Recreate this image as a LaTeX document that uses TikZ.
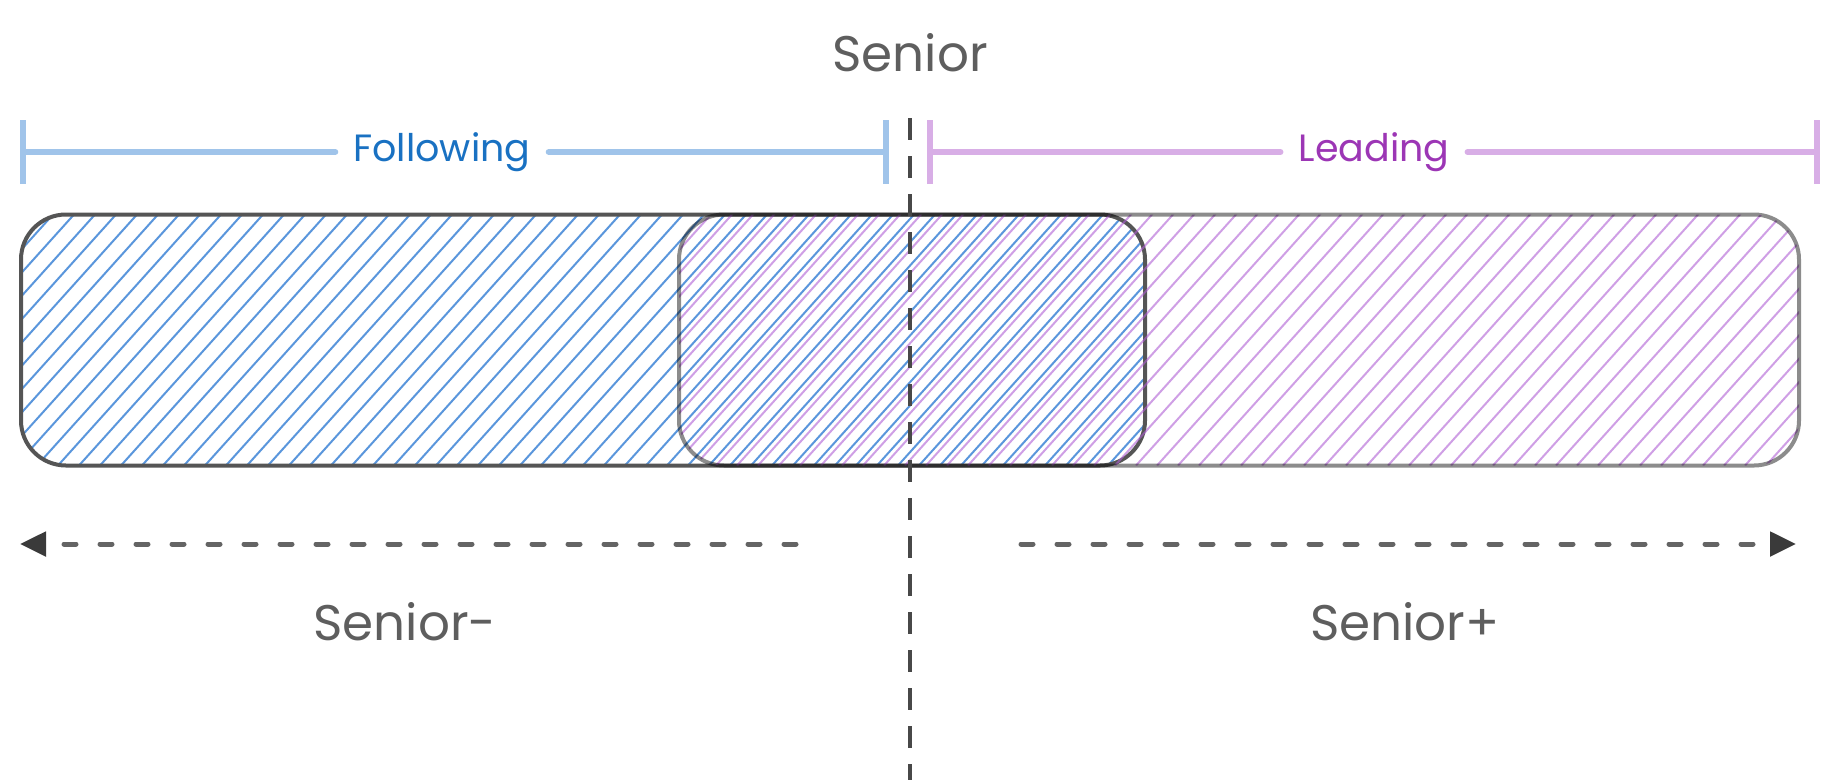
\documentclass[tikz,border=0pt]{standalone}
\usepackage{fontspec}
\setmainfont{Poppins}
\usetikzlibrary{arrows.meta,positioning,calc}
\definecolor{inkgray}{RGB}{94,94,94}
\definecolor{dashgray}{RGB}{100,100,100}
\definecolor{tipdark}{RGB}{58,58,58}
\definecolor{axisgray}{RGB}{72,72,72}
\definecolor{boxdark}{RGB}{85,85,85}
\definecolor{followblue}{RGB}{25,113,194}
\definecolor{leadpurple}{RGB}{156,54,181}
\definecolor{followline}{RGB}{160,196,234}
\definecolor{leadline}{RGB}{216,174,230}
\definecolor{hatchblue}{RGB}{90,150,220}
\definecolor{hatchpurple}{RGB}{175,95,212}

\begin{document}
\begin{tikzpicture}[x=1pt, y=-1pt,
  lbl/.style={font=\fontsize{50}{60}\selectfont, text=inkgray},
  brk/.style={font=\fontsize{38}{46}\selectfont, inner sep=18pt},
  box/.style={rounded corners=45pt, line width=4pt, minimum height=251pt, inner sep=0pt},
  hatch/.style={path picture={\foreach \k in {0,...,70} \draw[draw opacity=1, line width=2pt, #1] ([xshift={\k*21pt-320pt}]path picture bounding box.south west) -- ++(48:420pt);}},
  span/.style={line width=6pt, line cap=round},
  axis/.style={line width=4pt, draw=axisgray, dash pattern=on 22pt off 16pt},
  arrow/.style={-{Triangle[length=26pt,width=24pt,color=tipdark]}, line width=5pt, dash pattern=on 12pt off 24pt, line cap=round, draw=dashgray}]
\useasboundingbox (0,0) rectangle (1841,780);
\node[lbl] (senior) at (910,53) {Senior};
\node[box, draw=boxdark, hatch=hatchblue, minimum width=1124pt] (followbox) at (583,340) {};
\node[box, draw=black, draw opacity=0.45, hatch={hatchpurple, opacity=0.6}, minimum width=1120pt] (leadbox) at (1239,340) {};
\coordinate (followl) at (20,152); \coordinate (followr) at (889,152);
\coordinate (leadl) at (927,152); \coordinate (leadr) at (1820,152);
\node[brk, text=followblue] (following) at (442,152) {Following};
\node[brk, text=leadpurple] (leading) at (1374,152) {Leading};
\draw[span, draw=followline, {Bar[width=64pt]}-] (followl) -- (following); \draw[span, draw=followline, -{Bar[width=64pt]}] (following) -- (followr);
\draw[span, draw=leadline, {Bar[width=64pt]}-] (leadl) -- (leading); \draw[span, draw=leadline, -{Bar[width=64pt]}] (leading) -- (leadr);
\coordinate (axistop) at (910,118); \coordinate (axisbot) at (910,780);
\draw[axis] (axistop) -- (axisbot);
\coordinate (minusstart) at (796,544); \coordinate (minusend) at (20,544);
\coordinate (plusstart) at (1021,544); \coordinate (plusend) at (1796,544);
\draw[arrow] (minusstart) -- (minusend); \draw[arrow] (plusstart) -- (plusend);
\node[lbl] (minus) at (405,622) {Senior-};
\node[lbl] (plus) at (1405,622) {Senior+};
\end{tikzpicture}
\end{document}
